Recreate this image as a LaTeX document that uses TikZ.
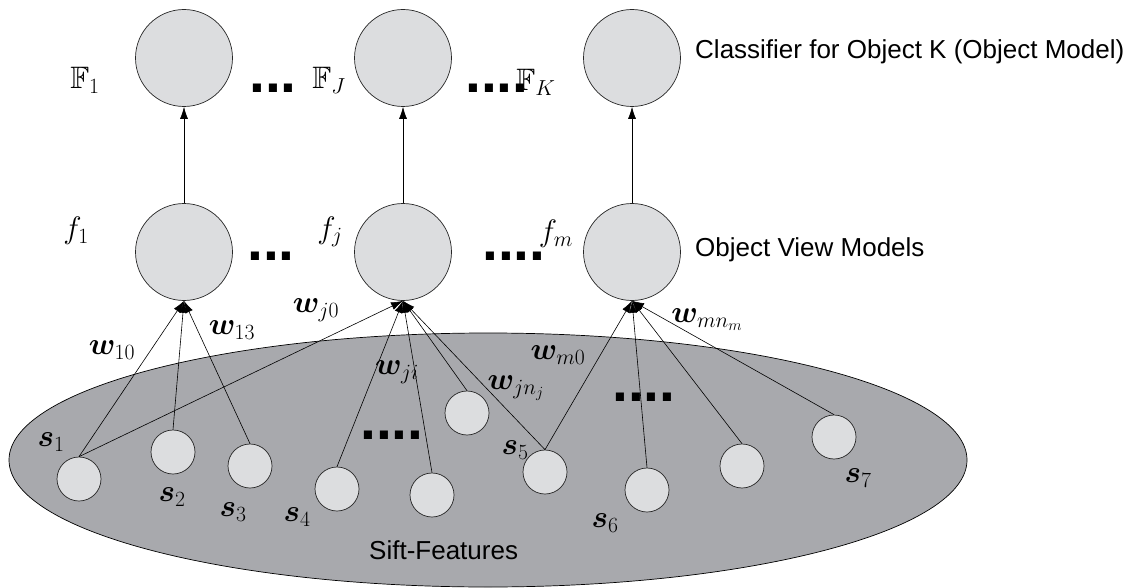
\RequirePackage{fix-cm}
\documentclass[tikz,border=0pt]{standalone}
\usepackage{amsmath,amssymb,bm}
% scalable blackboard bold
\DeclareFontFamily{U}{msb}{}
\DeclareFontShape{U}{msb}{m}{n}{<-> msbm10}{}
\usepackage{fontspec}
\newfontfamily\labelfont{Liberation Sans}
\usetikzlibrary{arrows.meta}
\definecolor{nodefill}{RGB}{220,221,223}
\definecolor{poolfill}{RGB}{168,169,173}

\begin{document}
\begin{tikzpicture}[x=1pt,y=-1pt,
  bignode/.style={circle,draw=black!85,fill=nodefill,line width=0.7pt,minimum size=97pt,inner sep=0pt},
  feat/.style={circle,draw=black!85,fill=nodefill,line width=0.7pt,minimum size=44pt,inner sep=0pt},
  link/.style={line width=0.6pt,-{Latex[length=12pt,width=8pt]}},
  mlab/.style={font=\fontsize{31}{37}\selectfont,inner sep=0pt},
  caption/.style={font=\labelfont\fontsize{26}{31}\selectfont,anchor=west,inner sep=0pt},
  gapdots/.style={font=\labelfont\bfseries\fontsize{57}{57}\selectfont,anchor=base west,inner sep=0pt}
]
\useasboundingbox (0,0) rectangle (1140,588);

% pool of sift features
\draw[fill=poolfill,line width=0.7pt] (488,460) ellipse [x radius=479, y radius=127];
\node[caption] (pool) at (369,550) {Sift-Features};

% object classifiers
\node[bignode] (F1) at (184,58) {};
\node[bignode] (FJ) at (403,58) {};
\node[bignode] (FK) at (632,58) {};

% object view models
\node[bignode] (f1) at (184,252) {};
\node[bignode] (fj) at (403,252) {};
\node[bignode] (fm) at (632,252) {};

% sift feature nodes
\node[feat] (s1) at (79,479) {};
\node[feat] (s2) at (173,452) {};
\node[feat] (s3) at (250,466) {};
\node[feat] (s4) at (337,489) {};
\node[feat] (u1) at (432,495) {};
\node[feat] (u2) at (467,413) {};
\node[feat] (s5) at (545,472) {};
\node[feat] (s6) at (647,490) {};
\node[feat] (u3) at (742,466) {};
\node[feat] (s7) at (834,437) {};

% view models feed the classifiers
\draw[link] (f1.north) -- (F1.south);
\draw[link] (fj.north) -- (FJ.south);
\draw[link] (fm.north) -- (FK.south);

% features feed the view models
\foreach \s in {s1,s2,s3} \draw[link] (\s.north) -- (f1.south);
\foreach \s in {s1,s4,u1,u2,s5} \draw[link] (\s.north) -- (fj.south);
\foreach \s in {s5,s6,u3,s7} \draw[link] (\s.north) -- (fm.south);

% captions
\node[caption] (capK) at (695,52) {Classifier for Object K (Object Model)};
\node[caption] (capV) at (695,250) {Object View Models};

% model labels
\node[mlab] (lF1) at (85,80) {$\mathbb{F}_1$};
\node[mlab] (lFJ) at (329,80) {$\mathbb{F}_J$};
\node[mlab] (lFK) at (536,82) {$\mathbb{F}_K$};
\node[mlab] (lf1) at (76,231) {$f_1$};
\node[mlab] (lfj) at (330,232) {$f_j$};
\node[mlab] (lfm) at (556,234) {$f_m$};

% elided nodes
\node[gapdots] (d1) at (249,93) {...};
\node[gapdots] (d2) at (465,93) {....};
\node[gapdots] (d3) at (247,260) {...};
\node[gapdots] (d4) at (482,260) {....};
\node[gapdots] (d5) at (360,439) {....};
\node[gapdots] (d6) at (612,401) {....};

% weight labels
\node[mlab] (w10) at (112,350) {$\bm{w}_{10}$};
\node[mlab] (w13) at (232,330) {$\bm{w}_{13}$};
\node[mlab] (wj0) at (316,310) {$\bm{w}_{j0}$};
\node[mlab] (wji) at (397,372) {$\bm{w}_{ji}$};
\node[mlab] (wjn) at (516,388) {$\bm{w}_{jn_j}$};
\node[mlab] (wm0) at (558,355) {$\bm{w}_{m0}$};
\node[mlab] (wmn) at (707,320) {$\bm{w}_{mn_m}$};

% feature labels
\node[mlab] (ls1) at (51,442) {$\bm{s}_1$};
\node[mlab] (ls2) at (172,497) {$\bm{s}_2$};
\node[mlab] (ls3) at (233,512) {$\bm{s}_3$};
\node[mlab] (ls4) at (297,517) {$\bm{s}_4$};
\node[mlab] (ls5) at (515,450) {$\bm{s}_5$};
\node[mlab] (ls6) at (605,523) {$\bm{s}_6$};
\node[mlab] (ls7) at (858,478) {$\bm{s}_7$};
\end{tikzpicture}
\end{document}
